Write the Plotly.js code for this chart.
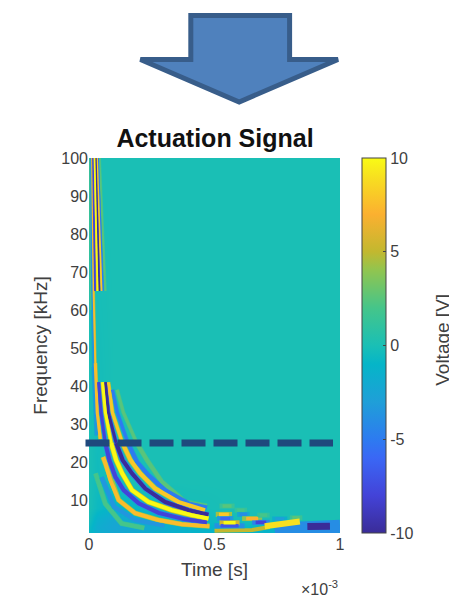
<!DOCTYPE html>
<html><head><meta charset="utf-8">
<script src="https://cdn.plot.ly/plotly-3.0.1.min.js"></script>
<style>html,body{margin:0;padding:0;background:#fff;overflow:hidden}
.scatterlayer{filter:blur(.7px)}</style></head>
<body><div id="c" style="width:449px;height:606px"></div>
<script>
// Time in units of 1e-3 s, frequency in kHz, voltage in V
const baseTime=[0,.03,.1,.2,.4,.6,.8,1];
const baseFreq=[1.3,3,5,8,15,30,100];
const baseVolt=[
[-.8,-1.6,-2.2,-2.0,-1.2,-1.0,-1.4,-.8],
[-.6,-1.8,-2.4,-2.2,-1.2,-.8,-1.0,-.6],
[-.2,-1.4,-2.2,-1.6,-.8,-.2,0,0],
[0,-.6,-1.2,-.8,-.2,0,0,0],
[0,-.4,-.2,0,0,0,0,0],
[0,-.3,0,0,0,0,0,0],
[0,0,0,0,0,0,0,0]];

const ridgeAT=[.005,.008,.014,.026,.065,.13,.22], ridgeAF=[100,60,33,17,9,3.8,2.6], ridgeAV=2;
const ridgeBT=[.008,.011,.018,.03,.05,.10,.184,.3], ridgeBF=[100,72,45,27,16,8.2,4.7,3.2], ridgeBV=-3.5;
const ridgeCT=[.012,.018,.025,.0325,.045,.056,.0655,.085,.118,.184,.277,.37,.48], ridgeCF=[100,65,46,33,26,21.3,19.6,15.2,10,6.5,4.7,3.6,3.1], ridgeCV=7.5;
const ridgeDT=[.016,.024,.038,.048,.065,.081,.105,.138,.198,.277,.383,.47], ridgeDF=[100,65,41,33,25,20.5,16.1,12.6,9.1,6.6,4.9,4.1], ridgeDV=-8;
const ridgeET=[.022,.034,.054,.0655,.088,.108,.132,.171,.237,.33,.409,.476], ridgeEF=[100,65,41,33,25,20.5,17,12.6,9.5,7.3,6,5.1], ridgeEV=10;
const ridgeFT=[.027,.041,.065,.077,.108,.134,.171,.224,.303,.396,.476], ridgeFF=[100,65,41,33,25,20.5,17,13,9.5,7.3,6.1], ridgeFV=-10;
const ridgeGT=[.032,.05,.077,.0933,.133,.165,.204,.264,.356,.462], ridgeGF=[100,65,41,33,25,20.5,17,13,9.5,7.3], ridgeGV=8;
const ridgeHT=[.036,.055,.093,.113,.155,.191,.237,.303,.396,.47], ridgeHF=[100,65,39,33,25,20,16.5,12.6,9.1,8], ridgeHV=-5;
const ridgeIT=[.042,.065,.112,.137,.19,.231,.29,.383,.47], ridgeIF=[100,65,39,33,25,20.5,14.8,9.5,8.4], ridgeIV=2.5;

// Separate lobes at the low-frequency end
const lobeStart=[.50,.505,.51,.52,.52,.58,.59,.61,.65,.67,.73,.80];
const lobeEnd=[.62,.57,.575,.60,.58,.63,.64,.69,.72,.72,.79,.85];
const lobeFreq=[3.2,6.2,5.1,4.0,8.4,7.3,6.2,5.1,4.1,6.0,5.0,5.3];
const lobeVolt=[-7,8,-6,10,2.5,2,-4,7,-8,2,-3,2.5];

const tailAT=[.50,.65,.72], tailAF=[1.9,2.1,2.9], tailAV=5;
const tailBT=[.70,.75,.80,.84], tailBF=[3.1,3.4,3.8,4.3], tailBV=9;
const tailCT=[.74,.85,.90,1.0], tailCF=[2.3,2.6,3.1,3.1], tailCV=-4;
const tailDT=[.87,.91,.96], tailDF=[3.0,3.1,3.1], tailDV=-10;

const xTicks=[0,.5,1], yTicks=[10,20,30,40,50,60,70,80,90,100], cTicks=[-10,-5,0,5,10];

const stops=[[0,'#3a2c98'],[.1,'#4343d8'],[.2,'#3a67f5'],[.25,'#2d7bf0'],[.35,'#1f9fd8'],[.45,'#05b5c8'],[.5,'#1abfb5'],[.6,'#45c58a'],[.7,'#90c550'],[.75,'#c2b82f'],[.85,'#fbb030'],[.95,'#f7e020'],[1,'#f9fb15']];
function col(v){const p=(v+10)/20;for(let i=1;i<stops.length;i++){if(p<=stops[i][0]){const a=stops[i-1],b=stops[i],k=(p-a[0])/(b[0]-a[0]);
 const h=(s,o)=>parseInt(s.substr(o,2),16),m=o=>Math.round(h(a[1],o)+(h(b[1],o)-h(a[1],o))*k);return `rgb(${m(1)},${m(3)},${m(5)})`;}}return stops[12][1];}

const traces=[{type:'heatmap',x:baseTime,y:baseFreq,z:baseVolt,zmin:-10,zmax:10,zsmooth:'best',colorscale:stops,hoverinfo:'skip',
 colorbar:{x:1.0875,xanchor:'left',y:.5,yanchor:'middle',len:1,lenmode:'fraction',thickness:24,thicknessmode:'pixels',outlinecolor:'#444',outlinewidth:1,
  tickmode:'array',tickvals:cTicks,ticktext:cTicks.map(String),ticks:'inside',ticklen:3,tickcolor:'#444',tickfont:{family:'Liberation Sans',size:16,color:'#404040'},xpad:0,ypad:0}}];
function seg(x,y,v,w){traces.push({type:'scatter',mode:'lines',x:x,y:y,line:{color:col(v),width:w,shape:'linear'},hoverinfo:'skip',showlegend:false});}
const tiers=[[101,45,1.8],[46,24,3],[25,0,4]];
const ridges=[[ridgeAT,ridgeAF,ridgeAV],[ridgeBT,ridgeBF,ridgeBV],[ridgeIT,ridgeIF,ridgeIV],[ridgeHT,ridgeHF,ridgeHV],[ridgeCT,ridgeCF,ridgeCV],[ridgeDT,ridgeDF,ridgeDV],[ridgeGT,ridgeGF,ridgeGV],[ridgeFT,ridgeFF,ridgeFV],[ridgeET,ridgeEF,ridgeEV]];
function ridgeDraw(r,extra,scale){for(const [hi,lo,w] of tiers){const idx=r[1].map((f,i)=>(f<=hi&&f>=lo)?i:-1).filter(i=>i>=0);
  seg(idx.map(i=>r[0][i]),idx.map(i=>r[1][i]),r[2]*scale,w+extra);}}
ridges.forEach(r=>ridgeDraw(r,1.2,.55));
ridges.forEach(r=>ridgeDraw(r,0,1));
seg(tailCT,tailCF,tailCV,13);
seg(tailAT,tailAF,tailAV,4);
lobeStart.forEach((s,i)=>{seg([s,lobeEnd[i]],[lobeFreq[i],lobeFreq[i]],lobeVolt[i]*.55,5);});
lobeStart.forEach((s,i)=>{const q=(lobeEnd[i]-s)*.2;seg([s+q,lobeEnd[i]-q],[lobeFreq[i],lobeFreq[i]],lobeVolt[i],3.5);});
seg(tailBT,tailBF,tailBV,6);
seg(tailDT,tailDF,tailDV,7);

const PL=88.5,PT=158,PW=251.5,PH=375;
const px=x=>(x-PL)/PW, py=y=>(PT+PH-y)/PH;
const arrow=[[190.5,15.5],[289.5,15.5],[289.5,59.5],[338,59.5],[239,102],[140,59.5],[190.5,59.5]];
const arrowPath='M'+arrow.map(p=>px(p[0]).toFixed(4)+','+py(p[1]).toFixed(4)).join(' L')+' Z';
const font='Liberation Sans';
const layout={width:449,height:606,margin:{l:PL,r:449-PL-PW,t:PT,b:606-PT-PH,pad:0},paper_bgcolor:'#fff',plot_bgcolor:'#1abfb5',showlegend:false,
 title:{text:'<b>Actuation Signal</b>',font:{family:font,size:25,color:'#111'},x:215/449,xanchor:'center',y:1-138/606,yanchor:'middle'},
 font:{family:font,color:'#404040'},
 xaxis:{range:[0,1],tickmode:'array',tickvals:xTicks,ticktext:['0','0.5','1'],ticks:'',showgrid:false,zeroline:false,showline:false,tickfont:{size:16,color:'#404040'},
  title:{text:'Time [s]',font:{size:19,color:'#404040'},standoff:10}},
 yaxis:{range:[1.3,100],tickmode:'array',tickvals:yTicks,ticktext:yTicks.map(String),ticks:'',showgrid:false,zeroline:false,showline:false,tickfont:{size:16,color:'#404040'},
  title:{text:'Frequency [kHz]',font:{size:19,color:'#404040'},standoff:8}},
 shapes:[
  {type:'path',xref:'paper',yref:'paper',path:arrowPath,fillcolor:'#4f81bd',line:{color:'#385d8a',width:5},layer:'above'},
  {type:'line',xref:'paper',yref:'y',x0:px(85),x1:px(333),y0:25,y1:25,line:{color:'#1f497d',width:7,dash:'24px,8px'},layer:'above'}],
 annotations:[
  {xref:'paper',yref:'paper',x:px(442),y:py(340),text:'Voltage [V]',textangle:-90,showarrow:false,xanchor:'center',yanchor:'middle',font:{size:19,color:'#404040'}},
  {xref:'paper',yref:'paper',x:px(340),y:py(588),text:'×10<sup>-3</sup>',showarrow:false,xanchor:'right',yanchor:'middle',font:{size:16,color:'#404040'}}]};
Plotly.newPlot('c',traces,layout,{staticPlot:true,displayModeBar:false});
</script></body></html>
